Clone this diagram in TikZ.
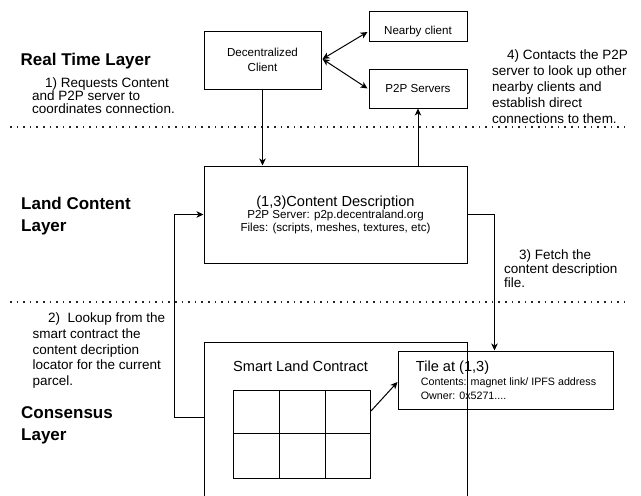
\documentclass[tikz,border=0pt]{standalone}
\usepackage{fontspec}
\setmainfont{Liberation Sans}
\usetikzlibrary{arrows.meta,calc}
\begin{document}
\begin{tikzpicture}[x=1pt,y=-1pt,
  box/.style={draw, line width=1pt, inner sep=0pt},
  arr/.style={line width=1pt, -{Stealth[length=7pt,width=6.5pt,inset=2pt]}},
  dblarr/.style={line width=1pt, {Stealth[length=7pt,width=6.5pt,inset=2pt]}-{Stealth[length=7pt,width=6.5pt,inset=2pt]}},
  dotline/.style={line width=1.6pt, dash pattern=on 1.6pt off 5pt, black!85},
  layer/.style={font=\fontsize{17}{22}\selectfont\bfseries, anchor=base west, inner sep=0pt, align=left},
  note/.style={anchor=base west, inner sep=0pt, align=left},
  big/.style={font=\fontsize{14.6}{16}\selectfont, inner sep=0pt},
  small/.style={font=\fontsize{11.6}{13}\selectfont, inner sep=0pt},
  tiny/.style={font=\fontsize{10.7}{12}\selectfont, inner sep=0pt},
  boxtext/.style={font=\fontsize{11.6}{15}\selectfont, inner sep=0pt, anchor=base, align=center}]
\useasboundingbox (0,0) rectangle (641,496);
\clip (0,0) rectangle (641,496);

% layer separators
\draw[dotline] (10,127) -- (630,127);
\draw[dotline] (10,302) -- (630,302);

% layer titles (multi-line nodes are placed by the baseline of their last line)
\node[layer] (rtl) at (20.5,65) {Real Time Layer};
\node[layer] (lcl) at (21,231) {Land Content\\Layer};
\node[layer] (csl) at (21,440) {Consensus\\Layer};

% real time layer boxes
\node[box, minimum width=117pt, minimum height=58pt] (client) at (262.5,60) {};
\node[boxtext] (clienttxt) at (262.5,71) {Decentralized\\Client};
\node[box, minimum width=98pt, minimum height=30pt] (nearby) at (418,26) {};
\node[boxtext] (nearbytxt) at (418,34.3) {Nearby client};
\node[box, minimum width=98pt, minimum height=39pt] (p2p) at (418,88.5) {};
\node[boxtext] (p2ptxt) at (418,92.7) {P2P Servers};

% land content layer
\node[box, minimum width=263pt, minimum height=97pt] (content) at (335.5,214.5) {};
\node[big, anchor=base] (cdtitle) at (335.5,206) {(1,3)Content Description};
\node[small, anchor=base] (cdserver) at (335.5,218.5) {P2P Server: p2p.decentraland.org};
\node[small, anchor=base] (cdfiles) at (335.5,231.7) {Files: (scripts, meshes, textures, etc)};

% consensus layer
\node[box, minimum width=263pt, minimum height=178pt] (smart) at (335.5,431) {};
\node[big, anchor=base west] (smarttxt) at (233,371) {Smart Land Contract};
\node[box, minimum width=137pt, minimum height=87.5pt, anchor=north west] (grid) at (233,390) {};
\draw[line width=1pt] (279,390) -- (279,477.5)
                      (325,390) -- (325,477.5)
                      (233,433.7) -- (370,433.7);
\node[box, minimum width=215pt, minimum height=58pt] (tile) at (505.5,380) {};
\node[big, anchor=base west] (tiletitle) at (415.7,371.7) {Tile at (1,3)};
\node[tiny, anchor=base west] (tilecont) at (420.7,385.7) {Contents: magnet link/ IPFS address};
\node[tiny, anchor=base west] (tileowner) at (420.7,399) {Owner: 0x5271....};

% step notes
\node[note, font=\fontsize{13.5}{12.6}\selectfont] (n1) at (32,113)
  {\hspace*{13pt}1) Requests Content\\and P2P server to\\coordinates connection.};
\node[note, font=\fontsize{13.5}{16.1}\selectfont] (n4) at (492,123.5)
  {\hspace*{15pt}4) Contacts the P2P\\server to look up other\\nearby clients and\\establish direct\\connections to them.};
\node[note, font=\fontsize{13.5}{14}\selectfont] (n3) at (504,287)
  {\hspace*{15pt}3) Fetch the\\content description\\file.};
\node[note, font=\fontsize{13.5}{15.75}\selectfont] (n2) at (32.5,385.7)
  {\hspace*{15.5pt}2)\ \ Lookup from the\\smart contract the\\content decription\\locator for the current\\parcel.};

% connectors
\coordinate (hub) at ($(client.east)+(1,-1)$);
\draw[dblarr] (hub) -- ($(nearby.west)+(-1,6)$);
\draw[dblarr] (hub) -- ($(p2p.west)+(-1,0)$);
\draw[arr] (client.south) -- (client.south |- content.north);
\draw[arr] (content.north -| p2p) -- (p2p.south);
\coordinate (bendL) at ($(smart.north west)+(-29,76)$);
\draw[arr] ($(smart.north west)+(0,76)$) -- (bendL) |- (content.west);
\coordinate (tiletop) at ($(tile.north west)+(97,0)$);
\draw[arr] (content.east) -| (tiletop);
\draw[arr] ($(grid.north east)+(0,21)$) -- ($(tile.west)+(0,2)$);
\end{tikzpicture}
\end{document}
